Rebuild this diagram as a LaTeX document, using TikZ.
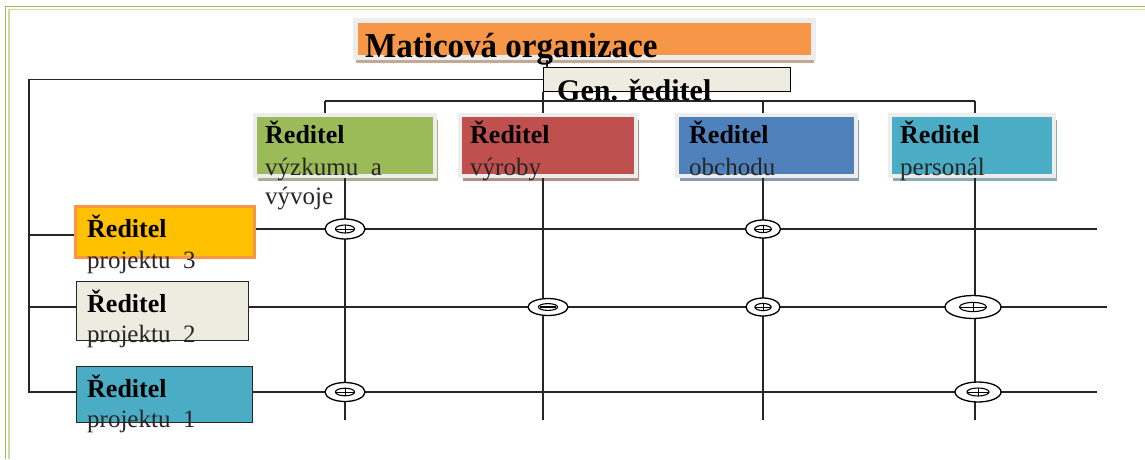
\documentclass[tikz,border=0pt]{standalone}
\usepackage{fontspec}
\setmainfont{Liberation Serif}
\usetikzlibrary{shapes.geometric,shadows}
\definecolor{cgreen}{HTML}{9BBB59}
\definecolor{cred}{HTML}{C0504D}
\definecolor{cblue}{HTML}{4F81BD}
\definecolor{cteal}{HTML}{4BACC6}
\definecolor{corange}{HTML}{F79646}
\definecolor{cgold}{HTML}{FFC000}
\definecolor{cbeige}{HTML}{EEECE1}
\definecolor{cframe}{HTML}{EDEDED}
\definecolor{cgreenline}{HTML}{9BBB59}
\definecolor{cgreenlight}{HTML}{C9DCA5}
\newcommand\junct[5]{% name, position, width, height, plus(1)/minus(0)
  \node[jn, minimum width=#3pt, minimum height=#4pt] (#1) at #2 {};
  \draw[line width=1.1pt] (#1.center) ellipse ({0.24*#3} and {0.2*#4});
  \ifnum#5=1
    \draw[line width=1pt] (#1.center) +({-0.24*#3},0) -- +({0.24*#3},0)
      (#1.center) +(0,{-0.2*#4}) -- +(0,{0.2*#4});
  \else
    \draw[line width=2pt] (#1.center) +({-0.2*#3},0) -- +({0.2*#3},0);
  \fi
}
\begin{document}
\begin{tikzpicture}[x=1pt,y=-1pt,
  line/.style={line width=1.1pt, draw=black!85},
  dirbox/.style={rectangle, draw=cframe, line width=4pt, minimum height=61pt,
    anchor=north west, inner sep=0pt},
  projbox/.style={rectangle, anchor=north west, inner sep=0pt},
  jn/.style={ellipse, draw, line width=1.3pt, fill=white, inner sep=0pt},
  bold/.style={anchor=base west, inner sep=0pt, font=\fontsize{26}{26}\selectfont\bfseries},
  reg/.style={anchor=base west, inner sep=0pt, text=black!85, font=\fontsize{25}{25}\selectfont},
]
\useasboundingbox (0,0) rectangle (1145,459);

% page frame
\draw[draw=cgreenline, line width=1.4pt] (5.7,459) -- (5.7,6.6) -- (1145,6.6);
\draw[draw=cgreenlight, line width=1.3pt] (9,459) -- (9,9.8) -- (1145,9.8);

% boxes
\node[rectangle, anchor=north west, inner sep=0pt, draw=cframe, line width=5pt,
  fill=corange, minimum width=458pt, minimum height=37pt,
  drop shadow={shadow xshift=1pt, shadow yshift=-6pt, fill=corange!55!black, opacity=0.5}]
  (title) at (352.5,17.5) {};
\node[rectangle, anchor=north west, inner sep=0pt, draw=black, line width=1.2pt,
  fill=cbeige, minimum width=247pt, minimum height=24pt] (gen) at (543,67) {};

\node[dirbox, fill=cgreen, minimum width=180pt,
  drop shadow={shadow xshift=3pt, shadow yshift=-5pt, fill=cgreen!60!black, opacity=0.55}] (d1) at (253,113) {};
\node[dirbox, fill=cred, minimum width=176pt,
  drop shadow={shadow xshift=3pt, shadow yshift=-5pt, fill=cred!60!black, opacity=0.55}] (d2) at (458,113) {};
\node[dirbox, fill=cblue, minimum width=179pt,
  drop shadow={shadow xshift=3pt, shadow yshift=-5pt, fill=cblue!60!black, opacity=0.55}] (d3) at (675,113) {};
\node[dirbox, fill=cteal, minimum width=164pt,
  drop shadow={shadow xshift=3pt, shadow yshift=-5pt, fill=cteal!60!black, opacity=0.55}] (d4) at (888,113) {};

\node[projbox, draw=corange, line width=3pt, fill=cgold, minimum width=179pt, minimum height=51pt] (p3) at (74,205) {};
\node[projbox, draw=black!85, line width=1.1pt, fill=cbeige, minimum width=172pt, minimum height=59pt] (p2) at (76,281) {};
\node[projbox, draw=black!85, line width=1.1pt, fill=cteal, minimum width=176pt, minimum height=56pt] (p1) at (76,366) {};

% coordinates
\coordinate (s1) at (325,101);
\coordinate (s2) at (543,101);
\coordinate (s3) at (763,101);
\coordinate (s4) at (975,101);
\coordinate (c1) at (345,420);
\coordinate (c2) at (543,420);
\coordinate (c3) at (763,420);
\coordinate (c4) at (975,420);
\coordinate (lb) at (29,0);
\coordinate (h3l) at (0,235);
\coordinate (h3) at (1097,229);
\coordinate (h2) at (1107,307);
\coordinate (h1) at (1097,392);
\coordinate (ts) at (547,0);

% connectors
\draw[line] (title.south -| ts) -- (gen.north -| ts);
\draw[line] (gen.west) -| (lb |- h1) -- (p1.west |- h1);
\draw[line] (lb |- h3l) -- (p3.west |- h3l);
\draw[line] (lb |- h2) -- (p2.west |- h2);
\draw[line] (s1) -- (s4);
\draw[line] (gen.south west) -- (s2);
\draw[line] (s1) -- (s1 |- d1.north);
\draw[line] (s2) -- (s2 |- d2.north);
\draw[line] (s3) -- (s3 |- d3.north);
\draw[line] (s4) -- (s4 |- d4.north);
\draw[line] (c1 |- d1.south) -- (c1);
\draw[line] (c2 |- d2.south) -- (c2);
\draw[line] (c3 |- d3.south) -- (c3);
\draw[line] (c4 |- d4.south) -- (c4);
\draw[line] (p3.east |- h3) -- (h3);
\draw[line] (p2.east |- h2) -- (h2);
\draw[line] (p1.east |- h1) -- (h1);

% junctions
\junct{j1}{(345,229)}{40}{20}{1}
\junct{j2}{(763,229)}{35}{18}{1}
\junct{j3}{(548,307)}{40}{17}{0}
\junct{j4}{(763,307)}{34}{18}{1}
\junct{j5}{(973,307)}{56}{23}{1}
\junct{j6}{(345,392)}{40}{19}{1}
\junct{j7}{(978,392)}{46}{20}{1}

% texts
\node[anchor=base west, inner sep=0pt, yscale=1.06, font=\fontsize{33}{33}\selectfont\bfseries] (tt) at (365,57) {Maticová organizace};
\node[anchor=base west, inner sep=0pt, font=\fontsize{30}{30}\selectfont\bfseries] (tg) at (557,100) {Gen. ředitel};

\node[bold] (t1a) at (265,143) {Ředitel};
\node[reg] (t1b) at (265,175) {výzkumu\ \ a};
\node[reg] (t1c) at (265,204) {vývoje};
\node[bold] (t2a) at (470,143) {Ředitel};
\node[reg] (t2b) at (470,175) {výroby};
\node[bold] (t3a) at (689,143) {Ředitel};
\node[reg] (t3b) at (689,175) {obchodu};
\node[bold] (t4a) at (900,143) {Ředitel};
\node[reg] (t4b) at (900,175) {personál};

\node[bold] (p3a) at (87,237) {Ředitel};
\node[reg] (p3b) at (87,268) {projektu\ \ 3};
\node[bold] (p2a) at (87,312) {Ředitel};
\node[reg] (p2b) at (87,342) {projektu\ \ 2};
\node[bold] (p1a) at (87,397) {Ředitel};
\node[reg] (p1b) at (87,427) {projektu\ \ 1};
\end{tikzpicture}
\end{document}
